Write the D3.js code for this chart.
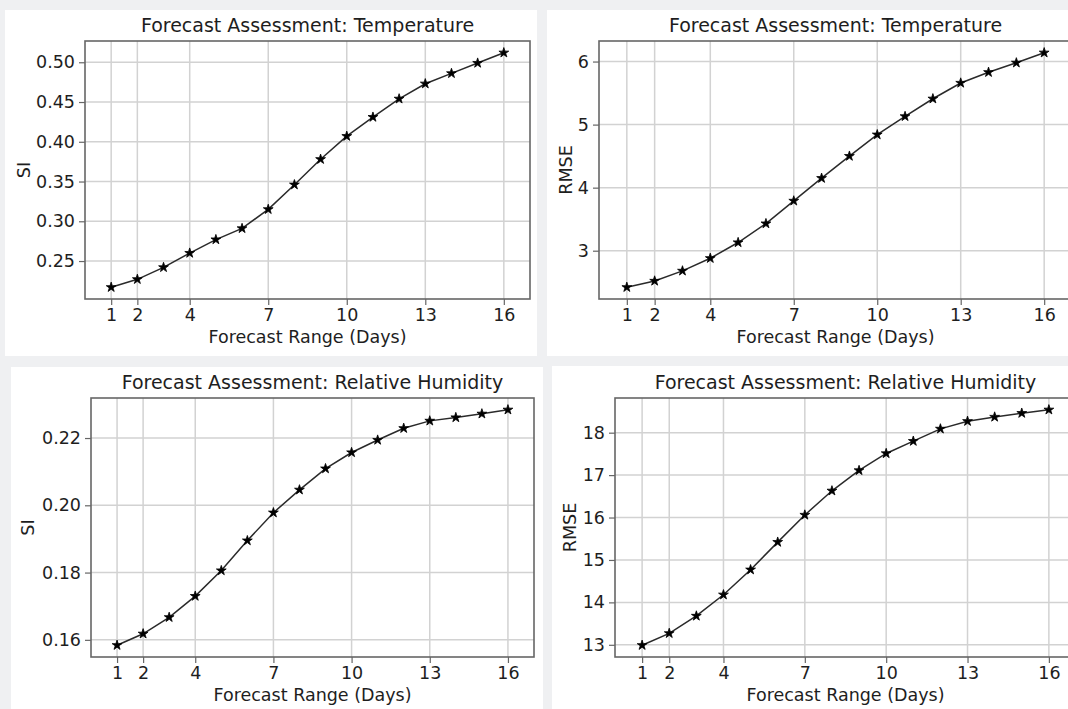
<!DOCTYPE html>
<meta charset="utf-8">
<title>Forecast Assessment</title>
<style>
    body {
        margin: 0;
        background: #eff0f2;
    }
    svg text {
        font-family: "DejaVu Sans", sans-serif;
        fill: #1e1e1e;
    }
</style>

<body>
    <div id="chart"></div>

    <script src="https://cdn.jsdelivr.net/npm/d3@7"></script>
    <script>
        // forecast days (x) and the tick labels shown on every x axis
        var days = [1, 2, 3, 4, 5, 6, 7, 8, 9, 10, 11, 12, 13, 14, 15, 16];
        var dayTicks = [1, 2, 4, 7, 10, 13, 16];

        // values
        var tempSI = [0.217, 0.227, 0.242, 0.260, 0.277, 0.291, 0.315, 0.346,
            0.378, 0.407, 0.431, 0.454, 0.473, 0.486, 0.499, 0.512];
        var tempRMSE = [2.42, 2.52, 2.68, 2.88, 3.13, 3.43, 3.79, 4.15,
            4.50, 4.84, 5.13, 5.41, 5.66, 5.83, 5.98, 6.14];
        var rhSI = [0.1584, 0.1618, 0.1667, 0.1730, 0.1806, 0.1895, 0.1978, 0.2046,
            0.2109, 0.2157, 0.2194, 0.2229, 0.2251, 0.2261, 0.2272, 0.2284];
        var rhRMSE = [12.99, 13.27, 13.68, 14.18, 14.77, 15.42, 16.06, 16.63,
            17.11, 17.51, 17.80, 18.09, 18.27, 18.37, 18.46, 18.54];

        // y tick labels
        var tempSITicks = [0.25, 0.30, 0.35, 0.40, 0.45, 0.50];
        var tempRMSETicks = [3, 4, 5, 6];
        var rhSITicks = [0.16, 0.18, 0.20, 0.22];
        var rhRMSETicks = [13, 14, 15, 16, 17, 18];

        var W = 1068, H = 709;

        var svg = d3.select("#chart")
            .append("svg")
            .attr("width", W)
            .attr("height", H);

        // each panel: white card + plot box (page coordinates)
        var panels = [
            { card: [5, 10, 532, 346], box: [85, 41, 530, 299], title: "Forecast Assessment: Temperature",
              ylabel: "SI", ylabelX: 24, values: tempSI, ticks: tempSITicks, fmt: ".2f" },
            { card: [547, 10, 530, 346], box: [599, 41, 1072, 299], title: "Forecast Assessment: Temperature",
              ylabel: "RMSE", ylabelX: 566, values: tempRMSE, ticks: tempRMSETicks, fmt: "d" },
            { card: [11, 367, 532, 350], box: [91, 398, 534, 657], title: "Forecast Assessment: Relative Humidity",
              ylabel: "SI", ylabelX: 28, values: rhSI, ticks: rhSITicks, fmt: ".2f" },
            { card: [552, 366, 530, 350], box: [615, 398, 1076, 657], title: "Forecast Assessment: Relative Humidity",
              ylabel: "RMSE", ylabelX: 570, values: rhRMSE, ticks: rhRMSETicks, fmt: "d" }
        ];

        panels.forEach(function(p) {
            svg.append("rect")
                .attr("x", p.card[0])
                .attr("y", p.card[1])
                .attr("width", p.card[2])
                .attr("height", p.card[3])
                .attr("fill", "white");

            var left = p.box[0], top = p.box[1], right = p.box[2], bottom = p.box[3];

            // x limits 0..17, y limits padded 5% like matplotlib
            var x = d3.scaleLinear().domain([0, 17]).range([left, right]);
            var ext = d3.extent(p.values);
            var pad = (ext[1] - ext[0]) * 0.05;
            var y = d3.scaleLinear().domain([ext[0] - pad, ext[1] + pad]).range([bottom, top]);

            var g = svg.append("g");

            // grid
            g.selectAll(".vgrid")
                .data(dayTicks)
                .enter()
                .append("line")
                .attr("x1", function(d) { return x(d); })
                .attr("x2", function(d) { return x(d); })
                .attr("y1", top)
                .attr("y2", bottom)
                .attr("stroke", "#d2d2d2")
                .attr("stroke-width", 1.5);
            g.selectAll(".hgrid")
                .data(p.ticks)
                .enter()
                .append("line")
                .attr("x1", left)
                .attr("x2", right)
                .attr("y1", function(d) { return y(d); })
                .attr("y2", function(d) { return y(d); })
                .attr("stroke", "#d2d2d2")
                .attr("stroke-width", 1.5);

            // axes
            var xAxis = g.append("g")
                .attr("transform", "translate(0," + bottom + ")")
                .call(d3.axisBottom(x).tickValues(dayTicks).tickSize(6).tickPadding(4));
            var yAxis = g.append("g")
                .attr("transform", "translate(" + left + ",0)")
                .call(d3.axisLeft(y).tickValues(p.ticks).tickFormat(d3.format(p.fmt)).tickSize(6).tickPadding(4));

            [xAxis, yAxis].forEach(function(a) {
                a.select(".domain").remove();
                a.selectAll("line").attr("stroke", "#666").attr("stroke-width", 1.2);
                a.selectAll("text")
                    .style("font-size", "17.5px")
                    .attr("fill", "#1e1e1e");
            });

            // frame
            g.append("rect")
                .attr("x", left)
                .attr("y", top)
                .attr("width", right - left)
                .attr("height", bottom - top)
                .attr("fill", "none")
                .attr("stroke", "#666")
                .attr("stroke-width", 1.6);

            // line + star markers
            var line = d3.line()
                .x(function(d, i) { return x(days[i]); })
                .y(function(d) { return y(d); });
            g.append("path")
                .datum(p.values)
                .attr("d", line)
                .attr("fill", "none")
                .attr("stroke", "#2a2a2a")
                .attr("stroke-width", 1.5);

            g.selectAll(".dot")
                .data(p.values)
                .enter()
                .append("path")
                .attr("d", d3.symbol().type(d3.symbolStar).size(30))
                .attr("transform", function(d, i) {
                    return "translate(" + x(days[i]) + "," + y(d) + ")";
                })
                .attr("fill", "black")
                .attr("stroke", "black")
                .attr("stroke-width", 0.8);

            // texts
            g.append("text")
                .attr("x", (left + right) / 2)
                .attr("y", top - 9)
                .attr("text-anchor", "middle")
                .style("font-size", "19px")
                .text(p.title);

            g.append("text")
                .attr("x", (left + right) / 2)
                .attr("y", bottom + 44)
                .attr("text-anchor", "middle")
                .style("font-size", "17.5px")
                .text("Forecast Range (Days)");

            g.append("text")
                .attr("transform", "translate(" + (p.ylabelX + 6) + "," + ((top + bottom) / 2) + ") rotate(-90)")
                .attr("text-anchor", "middle")
                .style("font-size", "17.5px")
                .text(p.ylabel);
        });
    </script>
</body>
